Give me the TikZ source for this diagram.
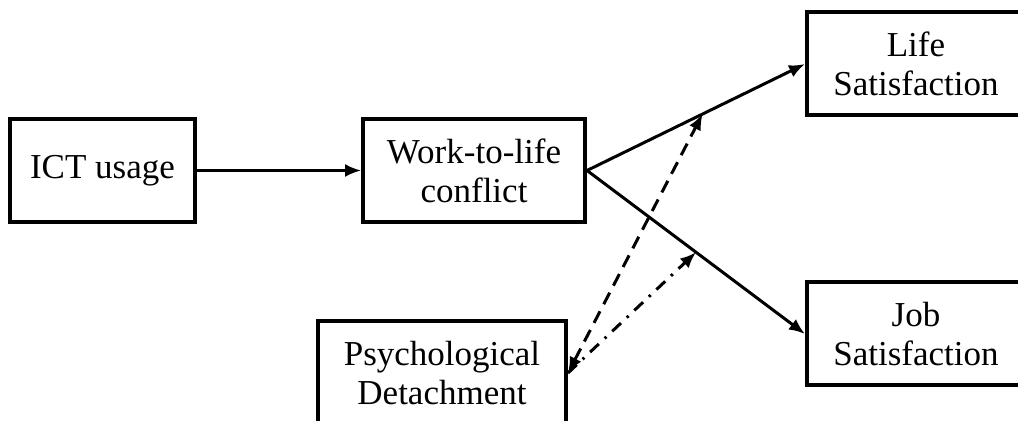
\documentclass[tikz,border=0pt]{standalone}
\usepackage{fontspec}
\setmainfont{Liberation Serif}
\usetikzlibrary{positioning,arrows.meta}

\begin{document}
\begin{tikzpicture}[
        x=0.5pt, y=-0.5pt,
        box/.style={draw=black, line width=2pt, rectangle, align=center,
            minimum height=51.5pt, inner sep=0pt,
            font=\fontsize{17.5}{19.5}\selectfont},
        link/.style={line width=1.5pt, -{Latex[length=8pt,width=6.5pt]}},
        moddash/.style={line width=1.5pt, dash pattern=on 6.5pt off 4pt,
            {Latex[length=8pt,width=6.5pt]}-{Latex[length=8pt,width=6.5pt]}},
        moddot/.style={line width=1.5pt, dash pattern=on 6pt off 4pt on 1.2pt off 4pt,
            -{Latex[length=8pt,width=6.5pt]}}]

        % page
        \useasboundingbox (0,0) rectangle (1018,421);

        % NODES
        % node ICT
        \node[box, minimum width=92.5pt] (ict) at (102.5,170.5) {ICT usage};
        % node conflict
        \node[box, minimum width=111pt] (wlc) at (474,170.5) {Work-to-life\\conflict};
        % node life
        \node[box, minimum width=109pt] (life) at (916,64) {Life\\Satisfaction};
        % node job
        \node[box, minimum width=109pt] (job) at (916,334) {Job\\Satisfaction};
        % node detachment
        \node[box, minimum width=124pt] (pd) at (442,373) {Psychological\\Detachment};

        % ARROWS
        \draw[link, line width=1.2pt] (ict)--(wlc);
        \draw[link] (wlc.east)--(life.west) coordinate[pos=0.53] (mlife);
        \draw[link] (wlc.east)--(job.west) coordinate[pos=0.5] (mjob);

        % moderation
        \draw[moddash] (pd.east)--(mlife);
        \draw[moddot] (pd.east)--(mjob);
\end{tikzpicture}
\end{document}
